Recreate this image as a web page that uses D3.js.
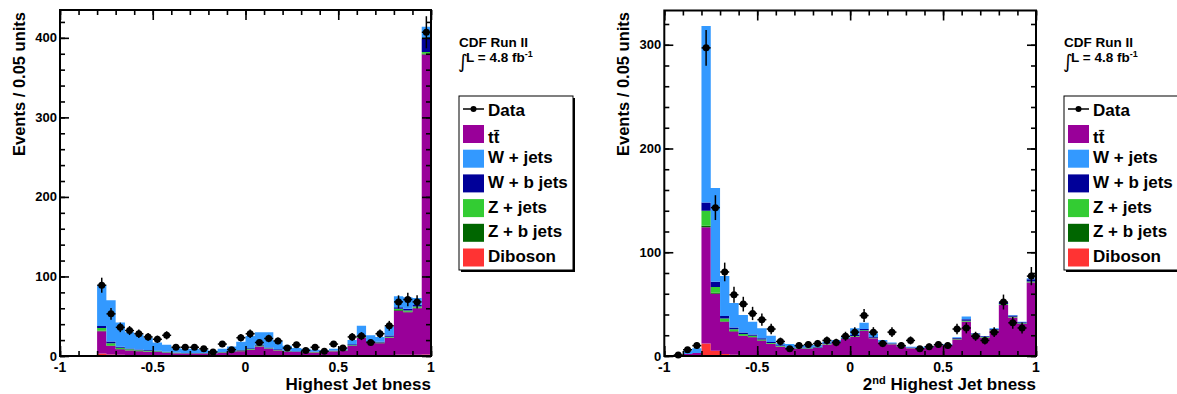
<!DOCTYPE html>
<html>
<head>
<meta charset="utf-8">
<script src="https://cdn.jsdelivr.net/npm/d3@7"></script>
<style>
body { margin: 0; background: #fff; }
text { font-family: "Liberation Sans", Arial, sans-serif; font-weight: bold; fill: #000; }
</style>
</head>
<body>
<svg id="chart" width="1177" height="394"></svg>
<script>
// 40 bins of 0.05 from -1 to 1
const binEdges = d3.range(41).map(i => -1 + i * 0.05);
const xMajor = [-1, -0.5, 0, 0.5, 1];
const xMajorLabels = ["-1", "-0.5", "0", "0.5", "1"];

// ---- Highest Jet bness ----
const leftData = [0,0,0,0, 89,53,36,32,28,24,21,26,11,11,11,9,5,15,8,23, 28,17,22,19,10,14,7,11,6,15, 10,24,25,17,28,38,68,71,68,407];
const leftDiboson = [0.8,0.8,0.8,0.8, 3,2,1.5,1,1,1,1,0.8,0.6,0.6,0.6,0.6,0.6,0.6,0.7,0.8, 0.9,1,1,0.8,0.7,0.7,0.6,0.6,0.7,0.7, 0.8,1,1.2,1,1,1.2,1.5,1.5,1.5,2];
const leftTtbar = [0,0,0,0, 28,10.5,7,6,5,4.5,4,3.2,2.9,2.4,2.4,2.4,2.4,3.4,4.3,5.2, 7.1,11,8,6.2,4.8,4.3,3.9,3.9,4.3,5.3, 5.7,11.5,21.8,16,15,21.8,55.5,53.5,58.5,377];
const leftZb = [0,0,0,0, 0.8,0.6,0.4,0.3,0.3,0.3,0.2,0.2,0.1,0.1,0.1,0.1,0.1,0.1,0.1,0.2, 0.2,0.3,0.2,0.2,0.1,0.1,0.1,0.1,0.1,0.1, 0.2,0.3,0.5,0.3,0.3,0.4,0.8,0.8,0.8,1.2];
const leftZjets = [0,0,0,0, 3.5,3,1.5,1.2,1,0.9,0.8,0.6,0.5,0.4,0.4,0.4,0.4,0.5,0.5,0.6, 0.6,0.8,0.6,0.5,0.4,0.3,0.3,0.3,0.3,0.4, 0.5,0.8,1,0.6,0.6,0.8,1.5,1.5,1.3,2];
const leftWb = [0,0,0,0, 2.5,2,1.2,1,0.9,0.8,0.7,0.5,0.4,0.4,0.4,0.4,0.4,0.5,0.6,0.7, 0.9,1.2,1,0.7,0.5,0.5,0.4,0.4,0.5,0.5, 0.8,1.2,1.5,1,1,1.5,2,2,2,17];
const leftWjets = [0,0,0,0, 51.2,51.9,30.4,20.5,18.8,15.5,10.3,8.7,5.5,5.1,5.1,4.1,2.6,3.9,5.8,10.5, 15.3,15.7,19.2,10.6,6.5,4.1,3.7,2.7,1.1,2, 2,5.2,12,7.1,6.1,11.3,13.7,14.7,8.9,14.8];

// ---- 2nd Highest Jet bness ----
const rightData = [0,1,6,10, 297,143,81,59,50,41,35,26,14,7,10,11,12,15,13,19, 23,39,23,12,23,10,15,7,9,11, 10,26,27,19,15,23,52,32,27,77];
const rightDiboson = [0.5,0.5,0.5,0.8, 12,5,2,1.3,1,0.8,0.7,0.6,0.5,0.5,0.5,0.5,0.5,0.5,0.5,0.5, 0.6,0.6,0.5,0.5,0.4,0.4,0.4,0.4,0.4,0.4, 0.4,0.5,0.6,0.5,0.5,0.5,0.6,0.5,0.5,0.8];
const rightTtbar = [0,0.3,1.5,2.2, 112,55,31,22.2,18.3,17.2,14.1,11,8.5,6.9,6.5,6.5,7.2,10.5,12.4,15.9, 18,23.4,16.5,12.4,10.9,8.6,7,6.6,7.6,9.9, 9.9,15.5,32.4,19.8,17.2,24,48.5,36.5,30.3,70];
const rightZb = [0,0,0,0, 1.5,1,0.6,0.5,0.4,0.3,0.3,0.2,0.2,0.1,0.1,0.1,0.1,0.1,0.1,0.1, 0.1,0.2,0.1,0.1,0.1,0.1,0.1,0.1,0.1,0.1, 0.1,0.2,0.3,0.2,0.2,0.2,0.3,0.2,0.2,0.3];
const rightZjets = [0,0,0,0, 14.5,5.5,2.5,1.8,1.4,1.1,0.9,0.7,0.5,0.4,0.4,0.4,0.4,0.4,0.4,0.4, 0.5,0.6,0.4,0.3,0.3,0.3,0.2,0.2,0.2,0.3, 0.3,0.4,0.6,0.4,0.4,0.5,0.8,0.6,0.5,0.8];
const rightWb = [0,0,0,0, 8,5,2.5,1.6,1.5,1.3,1.2,1,0.7,0.6,0.6,0.6,0.6,0.7,0.7,0.8, 1,1.2,0.8,0.6,0.5,0.5,0.4,0.4,0.4,0.5, 0.5,0.8,1.5,0.8,0.8,0.9,1.5,1.2,1,2];
const rightWjets = [0,0.2,3,4.4, 170,90.5,38.4,23.6,16.9,12.3,9.5,6.1,1.8,3.1,2.5,2.2,1.8,1.6,1.3,0.9, 6.5,6,3.6,1.5,0.7,0.7,0.9,1.3,0.9,0.4, 0.4,0.6,2.6,0.3,0.2,0.6,0.7,0.5,0.5,1.1];

// stack order bottom -> top
const procKeys = ["diboson", "ttbar", "zb", "zjets", "wb", "wjets"];
const procColor = { diboson: "#ff3333", ttbar: "#990099", zb: "#006600", zjets: "#33cc33", wb: "#000099", wjets: "#3399ff" };
const legendItems = [
  { key: "ttbar", label: "tt\u0304" },
  { key: "wjets", label: "W + jets" },
  { key: "wb", label: "W + b jets" },
  { key: "zjets", label: "Z + jets" },
  { key: "zb", label: "Z + b jets" },
  { key: "diboson", label: "Diboson" }
];

const svg = d3.select("#chart");

function drawPanel(p) {
  const x = d3.scaleLinear().domain([-1, 1]).range([p.x0, p.x1]);
  const y = d3.scaleLinear().domain([0, p.ymax]).range([p.y1, p.y0]);
  const g = svg.append("g");

  const rows = binEdges.slice(0, 40).map((e, i) => {
    const r = { lo: e, hi: binEdges[i + 1] };
    procKeys.forEach(k => r[k] = p.mc[k][i]);
    return r;
  });
  const layers = d3.stack().keys(procKeys)(rows);

  const area = d3.area()
    .x(d => x(d.x))
    .y0(d => y(d.y0))
    .y1(d => y(d.y1));

  layers.forEach(layer => {
    const pts = [];
    layer.forEach(s => {
      pts.push({ x: s.data.lo, y0: s[0], y1: s[1] });
      pts.push({ x: s.data.hi, y0: s[0], y1: s[1] });
    });
    g.append("path")
      .attr("d", area(pts))
      .attr("fill", procColor[layer.key]);
  });

  // data points with poisson errors
  const pts = p.data.map((v, i) => ({ v: v, c: (binEdges[i] + binEdges[i + 1]) / 2 })).filter(d => d.v > 0);
  const dg = g.append("g");
  dg.selectAll("line.ev").data(pts).enter().append("line")
    .attr("x1", d => x(d.c)).attr("x2", d => x(d.c))
    .attr("y1", d => y(d.v - Math.sqrt(d.v))).attr("y2", d => y(d.v + Math.sqrt(d.v)))
    .attr("stroke", "#000").attr("stroke-width", 1.5);
  dg.selectAll("line.eh").data(pts).enter().append("line")
    .attr("x1", d => x(d.c) - 4.5).attr("x2", d => x(d.c) + 4.5)
    .attr("y1", d => y(d.v)).attr("y2", d => y(d.v))
    .attr("stroke", "#000").attr("stroke-width", 1.5);
  dg.selectAll("circle").data(pts).enter().append("circle")
    .attr("cx", d => x(d.c)).attr("cy", d => y(d.v)).attr("r", 3.5)
    .attr("fill", "#000");

  // axes: ticks pointing inward on all four sides
  const xMinor = d3.range(21).map(i => -1 + i * 0.1);
  const yMinor = d3.range(0, p.ymax, 20);
  function tickAxis(axis, tr, vals, size) {
    const a = g.append("g").attr("transform", tr)
      .call(axis.tickValues(vals).tickSize(size).tickFormat(""));
    a.select(".domain").remove();
    a.selectAll("line").attr("stroke", "#000").attr("stroke-width", 1.6);
  }
  tickAxis(d3.axisBottom(x), `translate(0,${p.y1})`, xMinor, -5);
  tickAxis(d3.axisBottom(x), `translate(0,${p.y1})`, xMajor, -10);
  tickAxis(d3.axisTop(x), `translate(0,${p.y0})`, xMinor, -5);
  tickAxis(d3.axisTop(x), `translate(0,${p.y0})`, xMajor, -10);
  tickAxis(d3.axisLeft(y), `translate(${p.x0},0)`, yMinor, -5);
  tickAxis(d3.axisLeft(y), `translate(${p.x0},0)`, p.yMajor, -9);
  tickAxis(d3.axisRight(y), `translate(${p.x1},0)`, yMinor, -5);
  tickAxis(d3.axisRight(y), `translate(${p.x1},0)`, p.yMajor, -9);

  g.append("rect")
    .attr("x", p.x0).attr("y", p.y0)
    .attr("width", p.x1 - p.x0).attr("height", p.y1 - p.y0)
    .attr("fill", "none").attr("stroke", "#000").attr("stroke-width", 2);

  // tick labels
  g.selectAll("text.xl").data(xMajor).enter().append("text")
    .attr("x", d => x(d)).attr("y", p.y1 + 15.5)
    .attr("text-anchor", "middle").attr("font-size", 14)
    .text((d, i) => xMajorLabels[i]);
  g.selectAll("text.yl").data(p.yMajor).enter().append("text")
    .attr("x", p.x0 - 3).attr("y", d => y(d) + 4.5)
    .attr("text-anchor", "end").attr("font-size", 13)
    .text(d => d);

  // axis titles
  g.append("text")
    .attr("transform", `translate(${p.x0 - 35},12) rotate(-90)`)
    .attr("text-anchor", "end").attr("font-size", 16.5)
    .text("Events / 0.05 units");
  const xt = g.append("text")
    .attr("x", p.x1).attr("y", 390)
    .attr("text-anchor", "end").attr("font-size", 17);
  p.xTitle.forEach(part => {
    const ts = xt.append("tspan").text(part.t);
    if (part.sup) ts.attr("font-size", 11).attr("baseline-shift", "6");
  });

  // CDF label
  const lx = p.legendX;
  g.append("text").attr("x", lx).attr("y", 47).attr("font-size", 13.5).text("CDF Run II");
  g.append("text").attr("x", lx - 1).attr("y", 68)
    .style("font-family", "DejaVu Sans").style("font-weight", "normal")
    .attr("font-size", 19).text("\u222B");
  const lumi = g.append("text").attr("x", lx + 7).attr("y", 62).attr("font-size", 13.5);
  lumi.append("tspan").text("L = 4.8 fb");
  lumi.append("tspan").attr("font-size", 9).attr("baseline-shift", "5").text("-1");

  // legend box with shadow
  const by0 = 96, by1 = 270, bw = 114;
  g.append("rect").attr("x", lx + 2).attr("y", by0 + 2).attr("width", bw).attr("height", by1 - by0)
    .attr("fill", "#000");
  g.append("rect").attr("x", lx).attr("y", by0).attr("width", bw).attr("height", by1 - by0)
    .attr("fill", "#fff").attr("stroke", "#000").attr("stroke-width", 1);

  g.append("line").attr("x1", lx + 4).attr("x2", lx + 25).attr("y1", 109).attr("y2", 109)
    .attr("stroke", "#000").attr("stroke-width", 1.5);
  g.append("circle").attr("cx", lx + 14.5).attr("cy", 109).attr("r", 3).attr("fill", "#000");
  g.append("text").attr("x", lx + 29).attr("y", 116).attr("font-size", 17).text("Data");

  legendItems.forEach((it, i) => {
    const top = 125 + i * 24.7;
    g.append("rect").attr("x", lx + 4).attr("y", top).attr("width", 21).attr("height", 18)
      .attr("fill", procColor[it.key]);
    g.append("text").attr("x", lx + 29).attr("y", top + (i === 0 ? 18 : 13.5))
      .attr("font-size", 17).text(it.label);
  });
}

drawPanel({
  x0: 60, x1: 431, y0: 10, y1: 356, ymax: 435, yMajor: [0, 100, 200, 300, 400],
  data: leftData,
  mc: { diboson: leftDiboson, ttbar: leftTtbar, zb: leftZb, zjets: leftZjets, wb: leftWb, wjets: leftWjets },
  xTitle: [{ t: "Highest Jet bness" }],
  legendX: 459
});

drawPanel({
  x0: 664.3, x1: 1036, y0: 10.5, y1: 356, ymax: 333, yMajor: [0, 100, 200, 300],
  data: rightData,
  mc: { diboson: rightDiboson, ttbar: rightTtbar, zb: rightZb, zjets: rightZjets, wb: rightWb, wjets: rightWjets },
  xTitle: [{ t: "2" }, { t: "nd", sup: true }, { t: " Highest Jet bness" }],
  legendX: 1064
});
</script>
</body>
</html>
